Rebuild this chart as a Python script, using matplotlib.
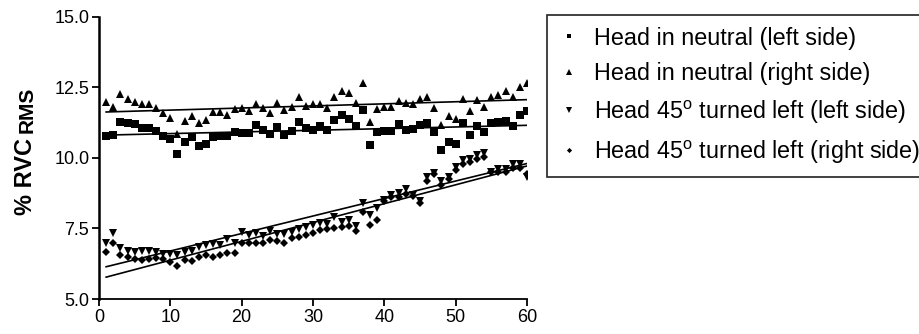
import numpy as np
import matplotlib
matplotlib.use("Agg")
from matplotlib import pyplot as plt
from matplotlib.lines import Line2D

plt.rcParams["font.family"] = ["Liberation Sans", "DejaVu Sans"]
plt.rcParams["mathtext.fontset"] = "custom"
plt.rcParams["mathtext.rm"] = "Liberation Sans"
plt.rcParams["mathtext.bf"] = "Liberation Sans:bold"

minutes = np.arange(1, 61)

neutral_left = [10.78, 10.80, 11.27, 11.23, 11.19, 11.05, 11.05, 10.97, 10.78, 10.66,
                10.14, 10.56, 10.76, 10.43, 10.50, 10.73, 10.78, 10.78, 10.93, 10.90,
                10.90, 11.16, 11.00, 10.85, 11.09, 10.83, 10.96, 11.28, 11.07, 11.00,
                11.13, 11.00, 11.35, 11.52, 11.37, 11.13, 11.70, 10.46, 10.93, 10.96,
                10.96, 11.19, 11.00, 11.03, 11.17, 11.23, 10.93, 10.28, 10.58, 10.50,
                11.23, 10.82, 11.13, 10.93, 11.23, 11.29, 11.31, 11.15, 11.52, 11.68]
neutral_right = [12.00, 11.82, 12.26, 12.09, 12.00, 11.90, 11.91, 11.76, 11.59, 11.41,
                 10.85, 11.31, 11.49, 11.25, 11.35, 11.62, 11.64, 11.52, 11.74, 11.76,
                 11.67, 11.90, 11.76, 11.59, 11.94, 11.70, 11.82, 12.17, 11.84, 11.91,
                 11.91, 11.78, 12.17, 12.38, 12.29, 11.94, 12.67, 11.27, 11.73, 11.82,
                 11.82, 12.03, 11.94, 11.90, 12.08, 12.15, 11.76, 11.17, 11.50, 11.37,
                 12.08, 11.68, 12.06, 11.82, 12.17, 12.23, 12.39, 12.17, 12.51, 12.65]
turned_left = [7.00, 7.33, 6.80, 6.70, 6.66, 6.71, 6.70, 6.66, 6.60, 6.60,
               6.56, 6.66, 6.71, 6.83, 6.91, 6.95, 6.90, 7.12, 7.00, 7.37,
               7.27, 7.33, 7.24, 7.41, 7.30, 7.29, 7.39, 7.47, 7.56, 7.62,
               7.68, 7.65, 7.90, 7.74, 7.80, 7.60, 8.39, 7.98, 8.22, 8.51,
               8.69, 8.75, 8.89, 8.69, 8.48, 9.34, 9.46, 9.20, 9.34, 9.69,
               9.93, 9.95, 10.10, 10.19, 9.51, 9.60, 9.60, 9.78, 9.79, 9.34]
turned_right = [6.66, 7.00, 6.56, 6.48, 6.42, 6.38, 6.42, 6.44, 6.42, 6.32,
                6.17, 6.38, 6.36, 6.48, 6.56, 6.50, 6.55, 6.62, 6.64, 7.00,
                7.00, 7.00, 7.00, 7.09, 7.07, 7.00, 7.15, 7.19, 7.27, 7.35,
                7.45, 7.47, 7.50, 7.55, 7.60, 7.42, 8.10, 7.62, 7.80, 8.49,
                8.61, 8.61, 8.72, 8.65, 8.39, 9.20, 9.42, 9.04, 9.24, 9.57,
                9.80, 9.85, 9.95, 10.05, 9.49, 9.52, 9.49, 9.63, 9.63, 9.45]

labels = ["Head in neutral (left side)",
          "Head in neutral (right side)",
          "Head 45$^{\\mathrm{o}}$ turned left (left side)",
          "Head 45$^{\\mathrm{o}}$ turned left (right side)"]
series = [neutral_left, neutral_right, turned_left, turned_right]
markers = ["s", "^", "v", "D"]
sizes = [5.2, 6.2, 6.2, 4.4]

fig = plt.figure(figsize=(9.19, 3.34), dpi=100)
ax = fig.add_axes([99 / 919, 1 - 299 / 334, (527 - 99) / 919, (299 - 17) / 334])

handles = []
for vals, m, ms, lab in zip(series, markers, sizes, labels):
    ax.plot(minutes, vals, ls="none", marker=m, ms=ms, color="black", mew=0)
    k, b = np.polyfit(minutes, vals, 1)
    ax.plot(minutes[[0, -1]], k * minutes[[0, -1]] + b, color="black", lw=1.2)
    handles.append(Line2D([], [], ls="none", marker=m, ms=ms * 0.6, color="black", mew=0, label=lab))

ax.set_xlim(0, 60)
ax.set_ylim(5, 15)
ax.set_xticks([0, 10, 20, 30, 40, 50, 60])
ax.set_yticks([5, 7.5, 10, 12.5, 15])
ax.set_yticklabels(["5.0", "7.5", "10.0", "12.5", "15.0"])
ax.tick_params(direction="out", length=5, width=1.3, labelsize=13, pad=2)
for s in ["top", "right"]:
    ax.spines[s].set_visible(False)
ax.spines["left"].set_linewidth(1.8)
ax.spines["bottom"].set_linewidth(1.3)

# y label: "% RVC" with a smaller "RMS" on nearly the same baseline
fig.text(32 / 919, 1 - 215 / 334, "% RVC", rotation=90, rotation_mode="anchor",
         ha="left", va="baseline", fontsize=17, fontweight="bold")
fig.text(33 / 919, 1 - 133 / 334, "RMS", rotation=90, rotation_mode="anchor",
         ha="left", va="baseline", fontsize=15, fontweight="bold")

leg = fig.legend(handles=handles, loc="upper left", bbox_to_anchor=(547 / 919, 1 - 15 / 334),
                 fontsize=16.8, frameon=True, fancybox=False, handlelength=0.9,
                 handletextpad=0.6, borderpad=0.5, labelspacing=0.55, borderaxespad=0)
leg.get_frame().set_edgecolor("black")
leg.get_frame().set_linewidth(1.3)

fig.savefig("out.png", dpi=100)
